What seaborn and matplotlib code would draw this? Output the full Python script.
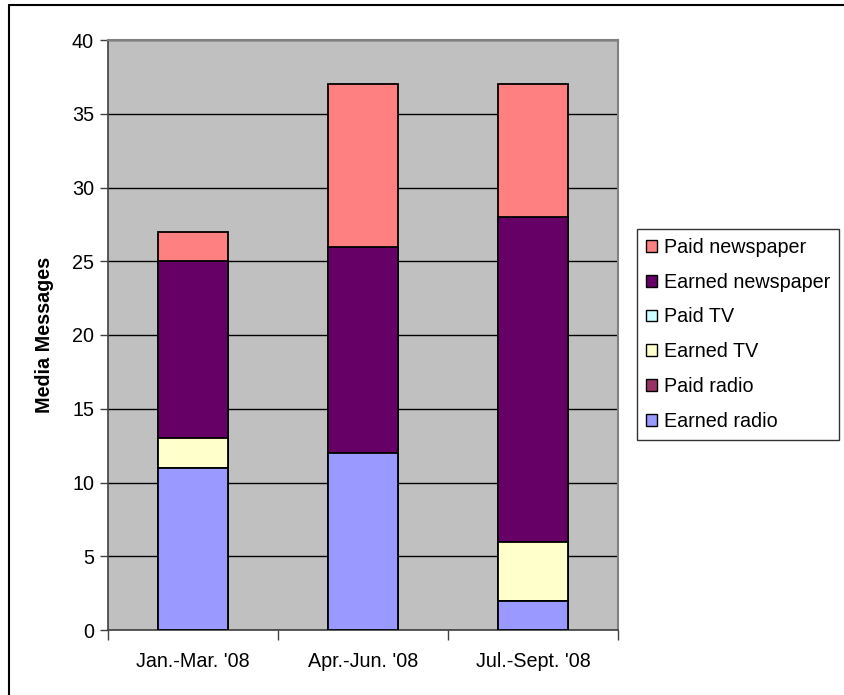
import numpy as np
import pandas as pd
import matplotlib
matplotlib.use("Agg")
import matplotlib.pyplot as plt
import seaborn as sns
from matplotlib.patches import Patch

quarters = ["Jan.-Mar. '08", "Apr.-Jun. '08", "Jul.-Sept. '08"]
series = ["Earned radio", "Paid radio", "Earned TV", "Paid TV",
          "Earned newspaper", "Paid newspaper"]
earned_radio = [11, 12, 2]
paid_radio = [0, 0, 0]
earned_tv = [2, 0, 4]
paid_tv = [0, 0, 0]
earned_newspaper = [12, 14, 22]
paid_newspaper = [2, 11, 9]
colors = ["#9999FF", "#993366", "#FFFFCC", "#CCFFFF", "#660066", "#FF8080"]

values = [earned_radio, paid_radio, earned_tv, paid_tv,
          earned_newspaper, paid_newspaper]

sns.set_style("white")
plt.rcParams["font.family"] = ["Liberation Sans", "DejaVu Sans"]
plt.rcParams["text.color"] = "black"
plt.rcParams["axes.labelcolor"] = "black"
plt.rcParams["xtick.color"] = "black"
plt.rcParams["ytick.color"] = "black"

FS = 14.2

fig = plt.figure(figsize=(8.44, 6.95), dpi=100)
ax = fig.add_axes([108 / 844, 1 - 630 / 695, 510 / 844, 590 / 695])
ax.set_facecolor("#C0C0C0")

# stacked bars: draw cumulative totals from the top layer down
cum = np.cumsum(np.array(values, dtype=float), axis=0)
for i in range(len(series) - 1, -1, -1):
    df = pd.DataFrame({"quarter": quarters, "total": cum[i]})
    sns.barplot(data=df, x="quarter", y="total", order=quarters,
                color=colors[i], saturation=1, width=0.41,
                edgecolor="black", linewidth=1.3, ax=ax, zorder=3)

ax.set_ylim(0, 40)
ax.set_xlim(-0.5, 2.5)
ax.set_yticks(np.arange(0, 41, 5))
ax.yaxis.grid(True, color="black", linewidth=1, zorder=1)
ax.set_axisbelow(True)

ax.set_xlabel("")
ax.set_ylabel("Media Messages", fontsize=FS, fontweight="bold", labelpad=13)
ax.tick_params(axis="y", direction="out", length=6, width=1, color="#404040",
               labelsize=FS, pad=4, left=True)
ax.tick_params(axis="x", which="major", length=0, labelsize=FS, pad=16)
ax.set_xticks([-0.5, 0.5, 1.5, 2.5], minor=True)
ax.tick_params(axis="x", which="minor", direction="out", length=7, width=1,
               color="#404040", bottom=True)

for side in ["left", "bottom"]:
    ax.spines[side].set_color("#404040")
    ax.spines[side].set_linewidth(1.2)
for side in ["top", "right"]:
    ax.spines[side].set_color("#808080")
    ax.spines[side].set_linewidth(1.5)

handles = [Patch(facecolor=c, edgecolor="black", linewidth=1.0, label=s)
           for c, s in zip(colors, series)]
leg = fig.legend(handles=handles[::-1], loc="upper left",
                 bbox_to_anchor=(637 / 844, 1 - 229 / 695),
                 frameon=True, fancybox=False, fontsize=FS,
                 handlelength=0.55, handleheight=0.55, handletextpad=0.35,
                 labelspacing=0.8, borderpad=0.45, borderaxespad=0)
leg.get_frame().set_edgecolor("black")
leg.get_frame().set_linewidth(1.0)

# outer chart border (top and left edges within the canvas)
fig.add_artist(plt.Line2D([9 / 844, 1.0], [1 - 5 / 695, 1 - 5 / 695],
                          transform=fig.transFigure, color="black", linewidth=1.5))
fig.add_artist(plt.Line2D([9 / 844, 9 / 844], [0.0, 1 - 5 / 695],
                          transform=fig.transFigure, color="black", linewidth=1.5))

fig.savefig("out.png", dpi=100)
